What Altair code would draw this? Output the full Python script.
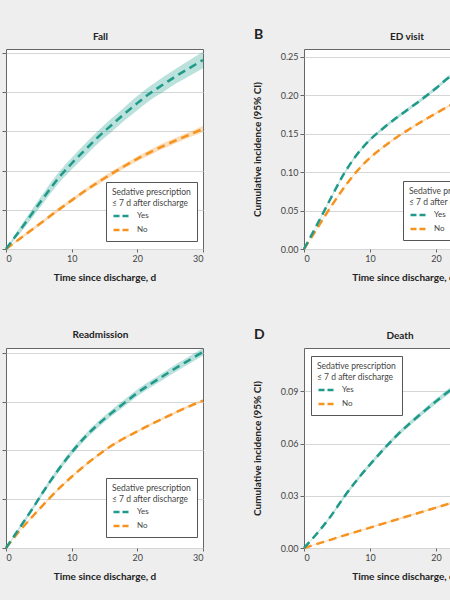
import altair as alt
import pandas as pd

days = [0, 2, 4, 6, 8, 10, 12, 14, 16, 18, 20, 22, 24, 26, 28, 30]
groups = ["Yes", "No"]
colors = ["#1f9a8a", "#f6921e"]

fall_yes = [0, .0045, .0091, .0137, .0181, .0218, .0252, .0285, .0315, .0344, .0372, .0398, .0420, .0442, .0462, .0482]
fall_yes_ci = [0, .0008, .0011, .0013, .0014, .0015, .0016, .0016, .0017, .0017, .0018, .0018, .0019, .0019, .0020, .0021]
fall_no = [0, .0025, .0050, .0075, .0100, .0124, .0148, .0170, .0191, .0211, .0230, .0247, .0263, .0278, .0292, .0306]
fall_no_ci = [0, .0003, .0004, .0004, .0005, .0005, .0005, .0006, .0006, .0006, .0006, .0007, .0007, .0007, .0007, .0008]

ed_yes = [0, .032, .065, .097, .1225, .142, .157, .1705, .183, .1955, .209, .2235, .234, .242, .249, .255]
ed_yes_ci = [0, .0008, .0012, .0015, .0017, .0019, .0020, .0021, .0022, .0023, .0024, .0025, .0026, .0027, .0028, .0029]
ed_no = [0, .027, .054, .079, .101, .1185, .1325, .145, .156, .1665, .1765, .186, .195, .203, .210, .217]
ed_no_ci = [0, .0006, .0008, .0009, .0010, .0011, .0011, .0012, .0012, .0013, .0013, .0013, .0014, .0014, .0014, .0015]

readm_yes = [0, .020, .040, .061, .0805, .098, .1135, .1265, .138, .1485, .159, .168, .1765, .185, .193, .201]
readm_yes_ci = [0, .0015, .0020, .0025, .0028, .0030, .0031, .0032, .0033, .0034, .0035, .0036, .0037, .0038, .0039, .0040]
readm_no = [0, .017, .032, .0465, .0605, .073, .0845, .095, .1045, .1125, .1195, .1265, .133, .1395, .1455, .151]
readm_no_ci = [0, .0006, .0008, .0009, .0010, .0010, .0011, .0011, .0011, .0012, .0012, .0012, .0013, .0013, .0013, .0014]

death_yes = [0, .0085, .018, .029, .039, .048, .0565, .0645, .0715, .078, .0843, .0903, .0955, .100, .104, .108]
death_yes_ci = [0, .0005, .0007, .0009, .0010, .0011, .0012, .0013, .0014, .0014, .0015, .0016, .0016, .0017, .0017, .0018]
death_no = [0, .0024, .0047, .0071, .0094, .0117, .0140, .0163, .0186, .0209, .0232, .0255, .0277, .0299, .0321, .0342]
death_no_ci = [0, .0002, .0003, .0003, .0004, .0004, .0004, .0005, .0005, .0005, .0005, .0006, .0006, .0006, .0006, .0007]

legend_title = ["Sedative prescription", "≤ 7 d after discharge"]


def make_df(yes, yes_ci, no, no_ci):
    rows = []
    for g, est, ci in (("No", no, no_ci), ("Yes", yes, yes_ci)):
        for d, e, c in zip(days, est, ci):
            rows.append({"day": d, "group": g, "est": e,
                         "lo": max(e - c, 0), "hi": e + c})
    return pd.DataFrame(rows)


def panel(title, df, ydomain, yticks, show_y, lx, ly, width,
          title_dx=0, letter=None, letter_y=-14, title_x=100, title_y=-12.5):
    xenc = alt.X("day:Q", scale=alt.Scale(domain=[0, 30], nice=False),
                 axis=alt.Axis(values=[0, 10, 20, 30], title="Time since discharge, d", grid=False))
    yaxis = alt.Axis(values=yticks, labels=show_y, format=".2f",
                     title="Cumulative incidence (95% CI)" if show_y else None)
    yscale = alt.Scale(domain=ydomain, nice=False)
    base = alt.Chart(df)
    layers = []
    for g, c in zip(groups, colors):
        layers.append(
            base.transform_filter(alt.datum.group == g)
            .mark_area(interpolate="monotone", fillOpacity=0.3, color=c)
            .encode(x=xenc, y=alt.Y("lo:Q", scale=yscale, axis=yaxis), y2="hi:Q")
        )
    line = base.mark_line(interpolate="monotone", strokeDash=[8, 5], strokeWidth=2.5).encode(
        x=xenc,
        y=alt.Y("est:Q", scale=yscale, axis=yaxis),
        color=alt.Color("group:N", scale=alt.Scale(domain=groups, range=colors),
                        legend=alt.Legend(title=legend_title, orient="none",
                                          legendX=lx, legendY=ly)),
    )
    layers.append(line)
    props = dict(width=width, height=200)
    if letter:
        lab_df = pd.DataFrame({"letter": [letter], "title": [title]})
        lab = alt.Chart(lab_df).mark_text(
            fontSize=14, fontWeight="bold", align="left", baseline="middle", color="#222"
        ).encode(text="letter:N", x=alt.value(-50), y=alt.value(letter_y))
        ttl = alt.Chart(lab_df).mark_text(
            fontSize=10, fontWeight="bold", align="center", baseline="middle", color="#222"
        ).encode(text="title:N", x=alt.value(title_x), y=alt.value(title_y))
        layers += [lab, ttl]
    else:
        props["title"] = alt.TitleParams(title, frame="group", dx=title_dx, offset=7, fontSize=10,
                                         fontWeight="bold", color="#222")
    return alt.layer(*layers).properties(**props)


fall = panel("Fall", make_df(fall_yes, fall_yes_ci, fall_no, fall_no_ci), [0, 0.051],
             [0, .01, .02, .03, .04, .05], False, 100, 133, 197, title_dx=-4)
ed = panel("ED visit", make_df(ed_yes, ed_yes_ci, ed_no, ed_no_ci), [0, 0.26],
           [0, .05, .10, .15, .20, .25], True, 99, 132, 198,
           letter="B", letter_y=-14, title_x=103, title_y=-12.5)
readm = panel("Readmission", make_df(readm_yes, readm_yes_ci, readm_no, readm_no_ci), [0, 0.205],
              [0, .05, .10, .15, .20], False, 100, 130, 197, title_dx=-4)
death = panel("Death", make_df(death_yes, death_yes_ci, death_no, death_no_ci), [0, 0.115],
              [0, .03, .06, .09], True, 7, 8, 198,
              letter="D", letter_y=-13, title_x=96, title_y=-12.5)

chart = alt.concat(
    fall, ed, readm, death, columns=2, spacing={"row": 99, "column": 101}, bounds="flush"
).resolve_scale(
    color="independent"
).add_params(
    alt.param(name="width", value=444),
    alt.param(name="height", value=551),
).properties(
    padding={"left": 6, "top": 49, "right": 0, "bottom": 0},
    autosize=alt.AutoSizeParams(type="none"),
).configure(
    background="#eeeeee", font="Lato"
).configure_view(
    fill="white", stroke="#666666", strokeWidth=1
).configure_axis(
    labelFontSize=9, labelColor="#444444", tickColor="#666666", domain=False,
    titleFontSize=10, titleFontWeight="bold", titleColor="#222222",
    gridColor="#d6d6d6", gridWidth=1,
).configure_axisX(
    tickSize=3, labelPadding=2, titlePadding=9,
).configure_axisY(
    tickSize=4, labelPadding=2, titlePadding=18,
).configure_legend(
    symbolType="stroke", symbolStrokeWidth=2.5, symbolSize=225, symbolDash=[6, 3],
    labelFontSize=8, titleFontSize=8.5, titleFontWeight="normal", titleColor="#444444",
    labelColor="#444444", titleLineHeight=10.5, padding=6, fillColor="white",
    strokeColor="#555555", rowPadding=0, titlePadding=0, labelOffset=7, cornerRadius=0,
)

chart.save("out.html", embed_options={"renderer": "svg", "actions": False})
